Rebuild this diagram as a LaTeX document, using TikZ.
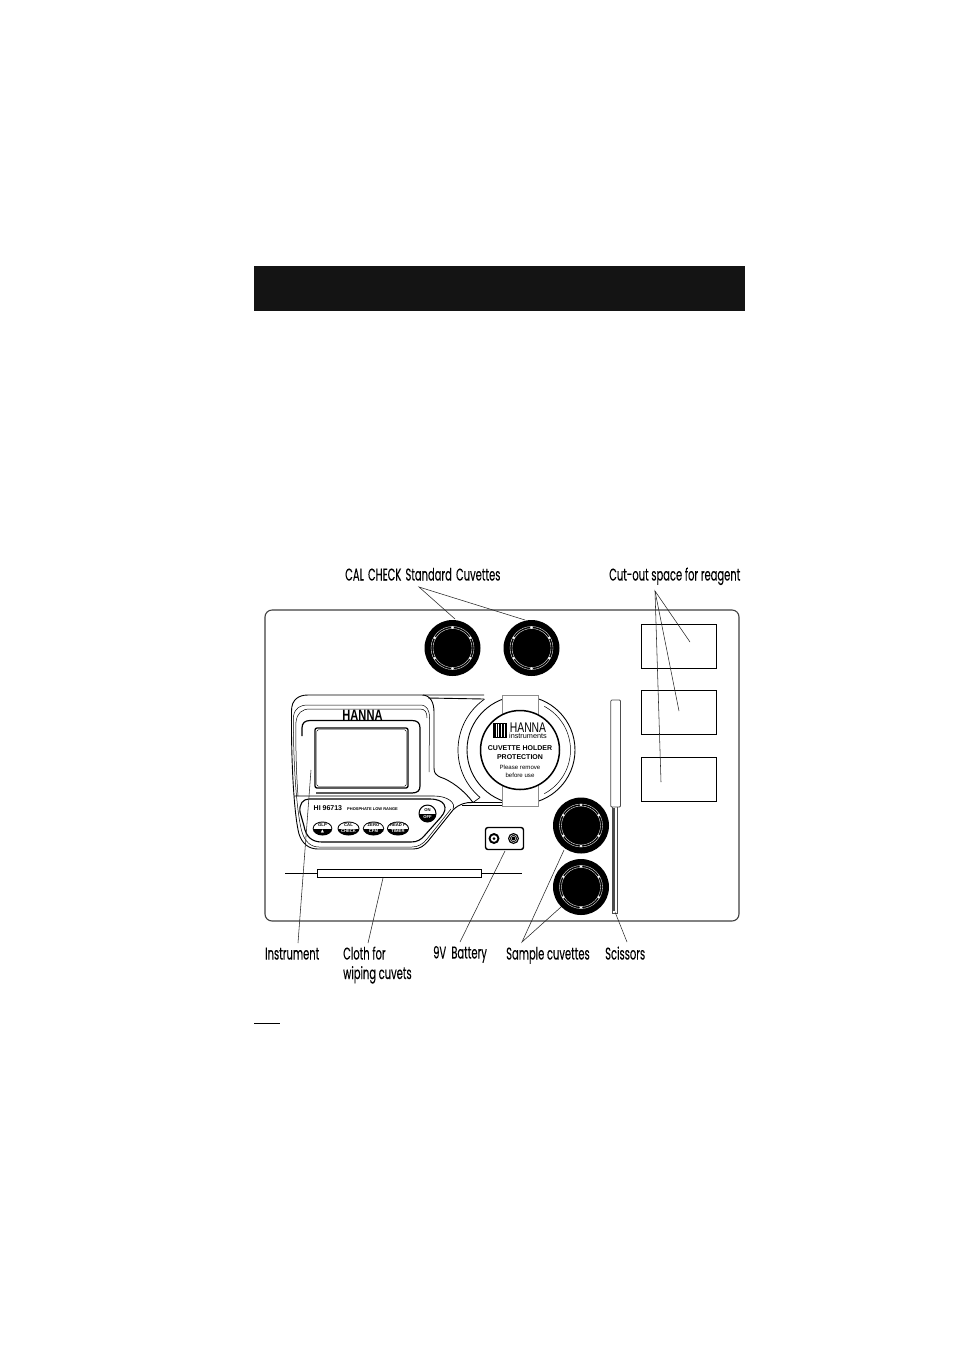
\documentclass[tikz,border=0pt]{standalone}
\usepackage{fontspec}
\setmainfont{Liberation Sans}
\newfontfamily\labelfont[FakeStretch=0.585,FakeBold=0.12]{Poppins}
\newfontfamily\narrowfont[FakeStretch=0.74]{Liberation Sans}
\newfontfamily\symfont{DejaVu Sans}
\usetikzlibrary{calc}
\tikzset{
  lab/.style={font=\labelfont\fontsize{17}{20}\selectfont,anchor=base west,inner sep=0pt,text=black},
  leader/.style={draw=black!85,line width=0.55pt},
  bodyline/.style={draw=black,line width=0.9pt,line join=round},
  thinl/.style={draw=black,line width=0.5pt},
  slot/.style={draw=black,line width=0.9pt,fill=white},
  keytxt/.style={font=\bfseries\fontsize{4.2}{4.5}\selectfont,inner sep=0pt},
  stk/.style={font=\bfseries\fontsize{7}{8.5}\selectfont,align=center,inner sep=0pt},
}
\newcommand{\cuvette}[2]{%
  \fill[black] (#1,#2) circle (28);
  \draw[white,line width=0.35pt] (#1,#2) circle (21.5);
  \draw[white,line width=0.35pt] (#1,#2) circle (19.5);
  \foreach \a in {30,90,150,210,270,330}
    \fill[white] ($(#1,#2)+(\a:20.5)$) circle (1.4);
}
\newcommand{\keyb}[5]{% x y rx top bottom
  \fill[black] (#1,#2) ellipse (#3 and 7);
  \begin{scope}
    \clip (#1-13,#2-8) rectangle (#1+13,#2);
    \fill[white] (#1,#2) ellipse (#3-1 and 6);
  \end{scope}
  \node[keytxt,text=black] at (#1,#2-3) {#4};
  \node[keytxt,text=white] at (#1,#2+3) {#5};
}
\begin{document}
\begin{tikzpicture}[x=1pt,y=-1pt]
\useasboundingbox (0,0) rectangle (954,1350);
\fill[white] (0,0) rectangle (954,1350);
% header bar and footnote rule
\fill[black!92] (254,266) rectangle (745,311);
\draw[black,line width=0.8pt] (254,1023) -- (280,1023);

% tray
\node[draw=black!75,line width=1.1pt,rounded corners=7pt,minimum width=474pt,minimum height=311pt,inner sep=0pt] (tray) at (502,765.5) {};

% reagent slots
\node[slot,minimum width=75pt,minimum height=44pt,inner sep=0pt] (slotA) at (678.5,646) {};
\node[slot,minimum width=75pt,minimum height=44pt,inner sep=0pt] (slotB) at (678.5,712) {};
\node[slot,minimum width=75pt,minimum height=44pt,inner sep=0pt] (slotC) at (678.5,779) {};

% cuvettes
\cuvette{452.5}{648}
\cuvette{531.5}{648}
\cuvette{581}{825.5}
\cuvette{581}{887}

% scissors
\draw[draw=black!70,line width=0.8pt,fill=white,rounded corners=1pt] (610.8,700) rectangle (620.5,807);
\draw[draw=black!70,line width=0.7pt] (612,807) -- (612,913) -- (617,913) -- (617,807);
\draw[black!70,line width=1.1pt] (614,808) -- (614,911);

% cloth
\node[draw=black,line width=0.9pt,fill=white,minimum width=164pt,minimum height=8pt,inner sep=0pt] (cloth) at (399,873) {};
\coordinate (clothL) at (285,873);
\coordinate (clothR) at (522,873);
\draw[black,line width=0.8pt] (clothL) -- (cloth.west) (cloth.east) -- (clothR);

% arm lines between body and holder
\draw[bodyline] (423,695) -- (484,695) (428,698) -- (484,699);
\draw[bodyline] (468,802.5) -- (502,802.5) (462,805.5) -- (502,805.5);

% holder
\draw[thinl,line width=0.7pt] plot[domain=130:235,samples=40] ({520+62*cos(\x)},{750+62*sin(\x)});
\draw[thinl,line width=0.7pt] (480,797.5) -- (473,802.5);
\draw[bodyline] (521,750) circle (54);
\draw[thinl] plot[domain=-62:62,samples=30] ({521+49.5*cos(\x)},{750+49.5*sin(\x)});

% strap
\draw[draw=black!45,line width=0.5pt,fill=white] (502,695) -- (538,695) -- (538,806) -- (502,806) -- cycle;
\draw[draw=black,line width=1.5pt,fill=white] (520,750) circle (39.5);

% sticker text
\draw[black,line width=0.7pt] (493.5,723.5) rectangle (506.5,737.5);
\foreach \i/\w in {0/0.8,1.6/0.7,3/1.3,5.2/0.5,6.6/1.0,8.4/0.5,9.8/1.1,11.6/0.8}
  \fill[black] (493.5+\i,723.5) rectangle (493.5+\i+\w,737.5);
\node[inner sep=0pt,font=\narrowfont\fontsize{14}{14}\selectfont] (stkHanna) at (528,727.5) {HANNA};
\node[inner sep=0pt,font=\fontsize{7.3}{8}\selectfont] (stkInst) at (528,736) {instruments};
\node[stk] (stkA) at (520,752.5) {CUVETTE HOLDER\\PROTECTION};
\node[inner sep=0pt,align=center,font=\fontsize{6.1}{7.7}\selectfont] (stkB) at (520,771) {Please remove\\before use};

% instrument body
\draw[bodyline] (291.5,711) .. controls (291.5,700) and (298,695) .. (308,695)
  -- (422,695) .. controls (430,695) and (434,702) .. (434,712)
  -- (434,768) .. controls (434,773) and (436,775) .. (440,777)
  .. controls (450,780) and (464,790) .. (473,802.5)
  .. controls (466,802) and (459,804) .. (453,810)
  -- (429,840) .. controls (424,846) and (420,849) .. (413,849)
  -- (318,849) .. controls (308,849) and (302,843) .. (299,834)
  .. controls (294,815) and (291,760) .. (291.5,711) -- cycle;
\draw[thinl] (293.5,716) .. controls (295,708) and (300,705) .. (308,705)
  -- (420,705) .. controls (427,705) and (429.5,710) .. (429.5,718) -- (429,772);
\draw[thinl] (293.5,716) .. controls (293,765) and (297,815) .. (302,832)
  .. controls (305,842) and (311,847) .. (319,847) -- (412,847)
  .. controls (418,847) and (423,844) .. (427,839) -- (451,809);
\draw[thinl] (296,722) .. controls (297,713) and (302,709) .. (310,709)
  -- (420,709) .. controls (425,709) and (427,712) .. (427,718);
\draw[thinl] (296,722) .. controls (295.5,750) and (296.5,775) .. (298,796);
% display
\draw[black,line width=1.2pt] (302,736) -- (302,728) .. controls (302,723) and (305,720.5) .. (310,720.5)
  -- (412,720.5) .. controls (417.5,720.5) and (420,723) .. (420,728)
  -- (420,786) .. controls (420,790.5) and (417.5,793) .. (412,793) -- (316,793);
\node[draw=black,line width=1.3pt,rounded corners=2pt,minimum width=93pt,minimum height=60pt,inner sep=0pt] (lcd) at (361.5,758) {};
\node[draw=black,line width=0.4pt,rounded corners=1.5pt,minimum width=89.5pt,minimum height=56.5pt,inner sep=0pt] (lcdin) at (361.5,758) {};
% keypad
\draw[black,line width=0.6pt] (294,796) -- (434,796) .. controls (448,796) and (456,803) .. (453,809);
\draw[black,line width=1.1pt] (309,799) -- (430,799) .. controls (445,799) and (449,808) .. (441,817)
  -- (425,835) .. controls (421,840) and (417,842) .. (411,842)
  -- (322,842) .. controls (312,842) and (306,837) .. (304,826)
  -- (300,812) .. controls (299,804) and (303,799) .. (309,799) -- cycle;
\node[inner sep=0pt,anchor=west,font=\bfseries\fontsize{7}{8}\selectfont] (model) at (313.5,808.5) {HI 96713};
\node[inner sep=0pt,anchor=west,font=\bfseries\fontsize{4}{5}\selectfont] (modelb) at (347,809) {PHOSPHATE LOW RANGE};
\keyb{322.5}{828.5}{9.8}{GLP}{{\symfont ▲}}
\keyb{348.5}{828.5}{11}{CAL}{CHECK}
\keyb{373.5}{828.5}{10.6}{ZERO}{CFM}
\keyb{398}{828.5}{11}{READ P}{TIMER}
\fill[black] (427.5,813.5) circle (9);
\begin{scope}\clip (417,803) rectangle (438,813);\fill[white] (427.5,813.5) circle (7.8);\end{scope}
\node[keytxt] at (427.5,810) {ON};
\node[keytxt,text=white] at (427.5,817) {OFF};
% HANNA on body
\node[inner sep=0pt,font=\narrowfont\bfseries\fontsize{15}{15}\selectfont] (bodyHanna) at (362.5,715) {HANNA};

% battery
\node[draw=black,line width=1.4pt,rounded corners=2.5pt,minimum width=38pt,minimum height=22pt,inner sep=0pt] (battery) at (504.5,838.5) {};
\fill[black] (494,838.5) circle (5.5);
\fill[white] (494,838.5) circle (3.3);
\fill[black] (494,838.5) circle (1.5);
\fill[black] (513.5,838.5) circle (5.5);
\draw[white,line width=0.4pt] (513.5,838.5) circle (3.9);
\draw[white,line width=0.4pt] (513.5,838.5) circle (2.3);

% labels
\node[lab] (lCal) at (345,580.5) {CAL\hspace{1.5pt} CHECK\hspace{1.5pt} Standard\hspace{1.5pt} Cuvettes};
\node[lab] (lCut) at (609,580.5) {Cut-out space for reagent};
\node[lab] (lInst) at (265,959.5) {Instrument};
\node[lab] (lCloth) at (343,959.5) {Cloth for};
\node[lab] (lWipe) at (343,979) {wiping cuvets};
\node[lab] (lBat) at (433,958.5) {9V\hspace{2.5pt} Battery};
\node[lab] (lSam) at (506,959.5) {Sample cuvettes};
\node[lab] (lSci) at (605,959.5) {Scissors};

% leader coordinates
\coordinate (apCal) at (419,587);
\coordinate (apCut) at (655,591);
\coordinate (apSam) at (522,942);
\coordinate (tCalA) at (455,619);
\coordinate (tCalB) at (525,620);
\coordinate (tCutA) at (690,642);
\coordinate (tCutB) at (679,711);
\coordinate (tCutC) at (661,782);
\coordinate (tSamA) at (564,850);
\coordinate (tSamB) at (561,907);
\coordinate (fInst) at (311,770);
\coordinate (eInst) at (298,943);
\coordinate (fCloth) at (383,878);
\coordinate (eCloth) at (368,943);
\coordinate (fBat) at (505,851);
\coordinate (eBat) at (460,942);
\coordinate (fSci) at (615,912);
\coordinate (eSci) at (627,942);

\draw[leader] (tCalA) -- (apCal) -- (tCalB);
\draw[leader] (tCutA) -- (apCut) -- (tCutB);
\draw[leader] (apCut) -- (tCutC);
\draw[leader] (tSamA) -- (apSam) -- (tSamB);
\draw[leader] (fInst) -- (eInst);
\draw[leader] (fCloth) -- (eCloth);
\draw[leader] (fBat) -- (eBat);
\draw[leader] (fSci) -- (eSci);
\end{tikzpicture}
\end{document}
